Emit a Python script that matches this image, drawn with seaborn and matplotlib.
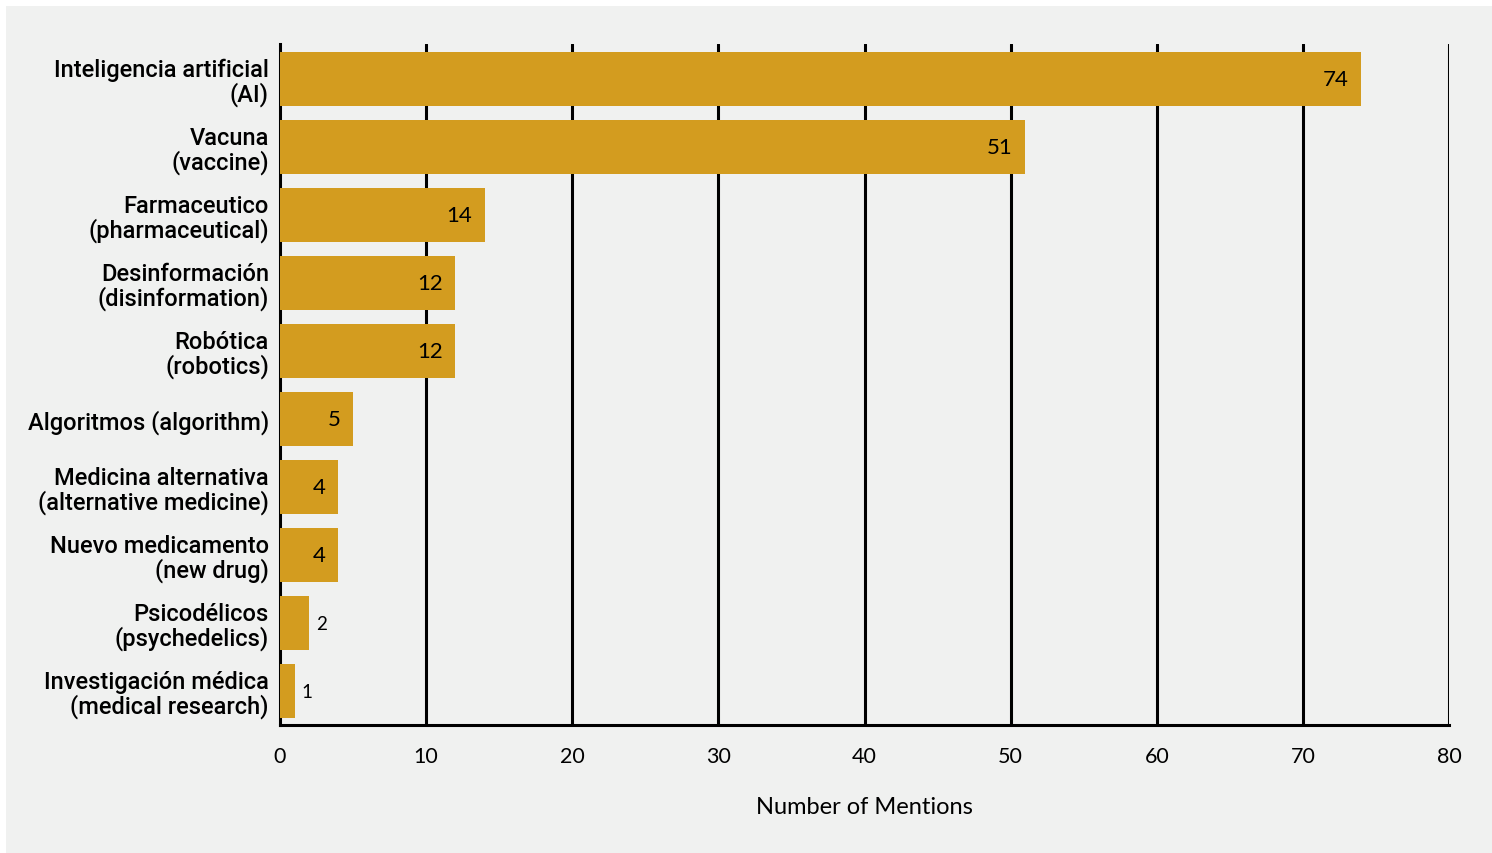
import matplotlib
matplotlib.use("Agg")
import matplotlib.pyplot as plt
import seaborn as sns
import pandas as pd
from matplotlib.patches import Rectangle

categories = [
    "Inteligencia artificial\n(AI)",
    "Vacuna\n(vaccine)",
    "Farmaceutico\n(pharmaceutical)",
    "Desinformación\n(disinformation)",
    "Robótica\n(robotics)",
    "Algoritmos (algorithm)",
    "Medicina alternativa\n(alternative medicine)",
    "Nuevo medicamento\n(new drug)",
    "Psicodélicos\n(psychedelics)",
    "Investigación médica\n(medical research)",
]
mentions = [74, 51, 14, 12, 12, 5, 4, 4, 2, 1]
x_ticks = [0, 10, 20, 30, 40, 50, 60, 70, 80]
x_label = "Number of Mentions"

BG = "#f0f1f0"
BAR = "#d39c1f"

sns.set_theme(style="white")
plt.rcParams["font.family"] = ["Lato", "DejaVu Sans"]
plt.rcParams["text.color"] = "black"
plt.rcParams["axes.labelcolor"] = "black"
plt.rcParams["xtick.color"] = "black"
plt.rcParams["ytick.color"] = "black"

df = pd.DataFrame({"term": categories, "mentions": mentions})

fig = plt.figure(figsize=(14.92, 8.54), dpi=100)
fig.patch.set_facecolor("white")
fig.patches.append(Rectangle((6 / 1492, 0), 1 - 6 / 1492, 1 - 7 / 854,
                             transform=fig.transFigure, facecolor=BG,
                             edgecolor="none", zorder=-10))
ax = fig.add_axes([280 / 1492, 1 - 726 / 854, (1449 - 280) / 1492, (726 - 45) / 854])
ax.set_facecolor(BG)

sns.barplot(data=df, x="mentions", y="term", orient="h", color=BAR,
            saturation=1, width=0.8, ax=ax, zorder=3, linewidth=0, edgecolor="none")

ax.set_xlim(0, 80)
ax.set_ylim(9.5, -0.515)
ax.set_xticks(x_ticks)
ax.set_xticklabels([str(t) for t in x_ticks], fontsize=15.5)
ax.tick_params(axis="x", length=0, pad=15, colors="black")
ax.tick_params(axis="y", length=0, pad=8, colors="black")
for lbl in ax.get_yticklabels():
    lbl.set_horizontalalignment("right")
    lbl.set_linespacing(1.0)
    lbl.set_fontfamily(["Roboto", "DejaVu Sans"])
    lbl.set_fontweight("medium")
    lbl.set_fontsize(17)
    lbl.set_color("black")
ax.set_ylabel("")
ax.set_xlabel(x_label, fontsize=17, labelpad=22, color="black")

for t in x_ticks[1:]:
    ax.axvline(t, color="black", lw=2.2, zorder=1)

for s in ["top", "right"]:
    ax.spines[s].set_visible(False)
for s in ["left", "bottom"]:
    ax.spines[s].set_visible(True)
    ax.spines[s].set_color("black")
    ax.spines[s].set_linewidth(2.2)
ax.spines["left"].set_zorder(2)

for i, v in enumerate(mentions):
    if v >= 4:
        ax.annotate(str(v), xy=(v, i), xytext=(-9, 0), textcoords="offset points",
                    ha="right", va="center", fontsize=16, color="black", zorder=5)
    else:
        ax.annotate(str(v), xy=(v, i), xytext=(5, 0), textcoords="offset points",
                    ha="left", va="center", fontsize=13.5, color="black", zorder=5)

fig.savefig("out.png", dpi=100, facecolor=fig.get_facecolor())
